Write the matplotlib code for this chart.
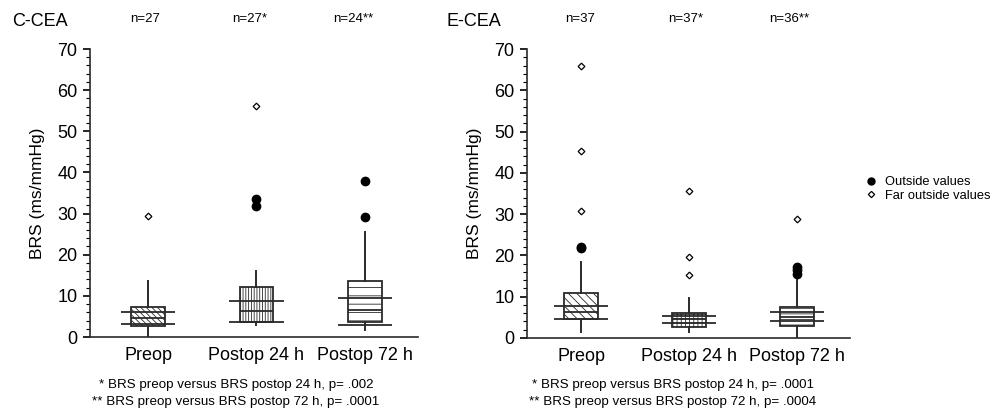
import numpy as np
import matplotlib
matplotlib.use('Agg')
import matplotlib.pyplot as plt
from matplotlib.lines import Line2D
from matplotlib.ticker import MultipleLocator

plt.rcParams['font.family'] = ['Liberation Sans', 'DejaVu Sans']
plt.rcParams['hatch.linewidth'] = 0.6

groups = ['Preop', 'Postop 24 h', 'Postop 72 h']

# C-CEA (left panel)
c_whislo = [0.0, 2.8, 1.6]
c_q1 = [2.7, 3.6, 3.6]
c_med = [4.5, 6.2, 6.5]
c_q3 = [7.2, 12.2, 13.7]
c_whishi = [13.6, 16.0, 25.6]
c_line_hi = [6.0, 8.8, 9.5]
c_line_lo = [3.2, 3.6, 2.9]
c_outside = [[], [33.5, 31.8], [37.8, 29.1]]
c_far = [[29.4], [56.2], []]
c_n = ['n=27', 'n=27*', 'n=24**']
c_hatch = ['\\\\\\\\\\\\', '||||||', '--']

# E-CEA (right panel)
e_whislo = [1.4, 1.4, 0.0]
e_q1 = [4.6, 2.7, 2.8]
e_med = [6.4, 4.5, 5.1]
e_q3 = [10.8, 6.0, 7.5]
e_whishi = [18.5, 9.8, 14.5]
e_line_hi = [7.8, 5.4, 6.3]
e_line_lo = [4.6, 3.7, 4.0]
e_outside = [[21.8, 22.1], [], [17.3, 16.5, 15.6]]
e_far = [[66.0, 45.3, 30.8], [35.5, 19.7, 15.3], [28.8]]
e_n = ['n=37', 'n=37*', 'n=36**']
e_hatch = ['\\\\\\\\', '++++', '---']

notes_c = ['* BRS preop versus BRS postop 24 h, p= .002',
           '** BRS preop versus BRS postop 72 h, p= .0001']
notes_e = ['* BRS preop versus BRS postop 24 h, p= .0001',
           '** BRS preop versus BRS postop 72 h, p= .0004']

W, H = 990, 412
fig = plt.figure(figsize=(9.9, 4.12), dpi=100)
ax1 = fig.add_axes([90 / W, 1 - 337 / H, 328 / W, 288 / H])
ax2 = fig.add_axes([527 / W, 1 - 338 / H, 323 / W, 289 / H])

edge = '#2a2a2a'


def draw_panel(ax, whislo, q1, med, q3, whishi, lhi, llo, outside, far, hatches, xlim):
    pos = np.arange(1, len(groups) + 1)
    stats = []
    for i in range(len(groups)):
        stats.append(dict(whislo=whislo[i], q1=q1[i], med=med[i], q3=q3[i],
                          whishi=whishi[i], fliers=[]))
    bp = ax.bxp(stats, positions=pos, widths=0.31, patch_artist=True,
                showcaps=False, showfliers=False,
                boxprops=dict(facecolor='white', edgecolor=edge, linewidth=1.3),
                whiskerprops=dict(color=edge, linewidth=1.4),
                medianprops=dict(color=edge, linewidth=1.3))
    for b, h in zip(bp['boxes'], hatches):
        b.set_hatch(h)
    ax.hlines(lhi, pos - 0.25, pos + 0.25, color=edge, lw=1.3, zorder=3)
    ax.hlines(llo, pos - 0.25, pos + 0.25, color=edge, lw=1.3, zorder=3)
    for p, vals in zip(pos, outside):
        ax.plot([p] * len(vals), vals, 'o', color='black', ms=6, zorder=4)
    for p, vals in zip(pos, far):
        ax.plot([p] * len(vals), vals, 'D', mfc='white', mec='black', ms=3.4, mew=0.9, zorder=4)

    ax.set_xlim(*xlim)
    ax.set_ylim(0, 70)
    ax.set_xticks(pos)
    ax.set_xticklabels(groups, fontsize=13)
    ax.tick_params(axis='x', length=0, pad=7)
    ax.yaxis.set_major_locator(MultipleLocator(10))
    ax.yaxis.set_minor_locator(MultipleLocator(2))
    ax.tick_params(axis='y', which='major', length=5, width=1.2, labelsize=13, pad=4)
    ax.tick_params(axis='y', which='minor', length=3, width=0.8)
    ax.spines['top'].set_visible(False)
    ax.spines['right'].set_visible(False)
    ax.spines['left'].set_linewidth(1.2)
    ax.spines['bottom'].set_linewidth(1.2)
    ax.spines['left'].set_color(edge)
    ax.spines['bottom'].set_color(edge)
    ax.set_ylabel('BRS (ms/mmHg)', fontsize=12.5, labelpad=9)


draw_panel(ax1, c_whislo, c_q1, c_med, c_q3, c_whishi, c_line_hi, c_line_lo,
           c_outside, c_far, c_hatch, (0.465, 3.49))
draw_panel(ax2, e_whislo, e_q1, e_med, e_q3, e_whishi, e_line_hi, e_line_lo,
           e_outside, e_far, e_hatch, (0.5, 3.49))

# panel titles
fig.text(12 / W, 1 - 22 / H, 'C-CEA', fontsize=13, va='center', ha='left')
fig.text(447 / W, 1 - 22 / H, 'E-CEA', fontsize=13, va='center', ha='left')

# n labels
for x, t in zip([145, 250, 353], c_n):
    fig.text(x / W, 1 - 19 / H, t, fontsize=9.5, ha='center', va='center')
for x, t in zip([580, 686, 789], e_n):
    fig.text(x / W, 1 - 19 / H, t, fontsize=9.5, ha='center', va='center')

# footnotes
for y, t in zip([385, 402], notes_c):
    fig.text(236 / W, 1 - y / H, t, fontsize=9.6, ha='center', va='center')
for y, t in zip([385, 402], notes_e):
    fig.text(673 / W, 1 - y / H, t, fontsize=9.6, ha='center', va='center')

# legend
handles = [Line2D([], [], ls='none', marker='o', color='black', ms=5),
           Line2D([], [], ls='none', marker='D', mfc='white', mec='black', ms=3.2, mew=0.9)]
fig.legend(handles, ['Outside values', 'Far outside values'], loc='center left',
           bbox_to_anchor=(858 / W, 1 - 189 / H), frameon=False, fontsize=9.3,
           labelspacing=0.1, handlelength=1.0, handletextpad=0.6, borderpad=0)

fig.savefig('out.png', dpi=100)
